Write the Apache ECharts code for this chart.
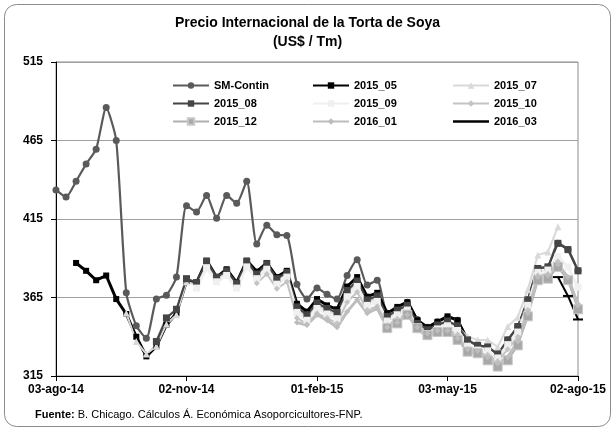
<!DOCTYPE html>
<html><head><meta charset="utf-8">
<script src="https://cdn.jsdelivr.net/npm/echarts@6/dist/echarts.min.js"></script>
<style>html,body{margin:0;padding:0;background:#fff}#c{width:615px;height:429px}</style>
</head><body><div id="c"></div>
<script>
const categories = ['03-ago-14','10-ago-14','17-ago-14','24-ago-14','31-ago-14','07-sep-14','14-sep-14','21-sep-14','28-sep-14','05-oct-14','12-oct-14','19-oct-14','26-oct-14','02-nov-14','09-nov-14','16-nov-14','23-nov-14','30-nov-14','07-dic-14','14-dic-14','21-dic-14','28-dic-14','04-ene-15','11-ene-15','18-ene-15','25-ene-15','01-feb-15','08-feb-15','15-feb-15','22-feb-15','01-mar-15','08-mar-15','15-mar-15','22-mar-15','29-mar-15','05-abr-15','12-abr-15','19-abr-15','26-abr-15','03-may-15','10-may-15','17-may-15','24-may-15','31-may-15','07-jun-15','14-jun-15','21-jun-15','28-jun-15','05-jul-15','12-jul-15','19-jul-15','26-jul-15','02-ago-15'];
const yTicks = [315, 365, 415, 465, 515];
const _ = null;
const smContin = [433.5,429,439,450,459.5,486,465,368,347,339,364,366.5,378,423.5,419.5,430,415.5,430,425,439,399,411,405,404.5,373.5,364,371,367,364,379,389,373,376,355,358.5,362,351,346,349.5,352.5,350.5,338,334.5,333.5,329,338,346.5,363.5,383.5,384.5,399.5,395.5,382];
const s2015_05 = [_,_,387,382,376,379,364,354.5,340,327.5,334,347.5,355,375.5,374.5,388.5,378,383,374.5,388.5,381.5,387,378,382,361,356,364,360,357.5,372,378,365.5,368,355,359,362,350.5,346,349.5,353,350.5,338,_,_,_,_,_,_,_,_,_,_,_];
const s2015_07 = [_,_,_,_,_,_,_,355,337,329,334,348,354,375,373,387,377,381,373,387,379,385.5,376.5,380,358,352,360,356.5,354,368,374.5,362,364.5,352,356,359,348,344,347,349,346.5,340,338,338,333.5,346.5,352.5,370,392,394,410,_,_];
const s2015_08 = [_,_,_,_,_,_,_,_,_,_,337,352,357.5,377,374.5,388,378,382,374,388,380,386.5,377,381,359,354,361.5,358,355.5,369.5,375.5,363.5,366,353,357,360,348.5,344.5,347.5,350,347,338,334.5,333.5,329,338,346.5,363.5,383.5,384.5,399.5,395.5,382];
const s2015_09 = [_,_,_,_,_,_,_,_,_,_,_,_,_,_,371,384,375,379,371,384.5,377,383,373.5,378,355.5,350.5,358,354.5,351.5,365.5,372,360,362.5,350,354,357,346,342,345,347,344,334,331.5,331,326.5,335,343,360,381,382.5,391,384.5,371.5];
const s2015_10 = [_,_,_,_,_,_,_,_,_,_,_,_,_,_,_,_,_,_,_,_,374,380,370.5,375,352,348,355,352,348.5,362,368.5,357,359.5,347.5,351.5,354.5,344,340,342.5,344.5,341.5,331,329,328.5,324.5,332,340,357,379,380,388,377,361];
const s2015_12 = [_,_,_,_,_,_,_,_,_,_,_,_,_,_,_,_,_,_,_,_,_,_,_,_,_,_,_,_,_,_,_,_,_,345.5,348.5,354,345.5,341,343,343,338,330.5,329.5,325,321,325,334.5,353,376,377,384.5,376,357.5];
const s2016_01 = [_,_,_,_,_,_,_,_,_,_,_,_,_,_,_,_,_,_,_,_,_,_,_,_,349,347.5,354,350.5,346,356,363.5,355,358,346,349,354,346,342,344,344,339,332,331,327,323,327,337,355,378,379,386,378,360];
const s2016_03 = [_,_,_,_,_,_,_,_,_,_,_,_,_,_,_,_,_,_,_,_,_,_,_,_,_,_,_,_,_,_,_,_,_,_,_,_,_,_,_,_,_,_,_,_,_,_,_,_,_,_,378,366,351];

const FONT = 'Liberation Sans, Arial, sans-serif';
function mk(name, data, color, width, symbol, size, extra) {
  return Object.assign({
    name: name, type: 'line', data: data, symbol: symbol, symbolSize: size,
    showSymbol: true, showAllSymbol: true, connectNulls: false,
    lineStyle: {color: color, width: width},
    itemStyle: {color: color, borderWidth: 0},
    emphasis: {disabled: true}, animation: false
  }, extra || {});
}
const series = [
  mk('SM-Contin', smContin, '#5a5a5a', 2.2, 'circle', 7, {smooth: 0.2}),
  mk('2015_05', s2015_05, '#000000', 3, 'rect', 6),
  mk('2015_07', s2015_07, '#d9d9d9', 2, 'triangle', 7),
  mk('2015_08', s2015_08, '#454545', 2.2, 'rect', 7),
  mk('2015_09', s2015_09, '#f0f0f0', 3, 'rect', 7),
  mk('2015_10', s2015_10, '#c4c4c4', 2, 'diamond', 6),
  mk('2015_12', s2015_12, '#b0b0b0', 2, 'rect', 9, {itemStyle: {color: '#a8a8a8', borderColor: '#c8c8c8', borderWidth: 1}}),
  mk('2016_01', s2016_01, '#bdbdbd', 3, 'diamond', 6),
  mk('2016_03', s2016_03, '#000000', 2, 'rect', [10, 2])
];
const legText = {fontFamily: FONT, fontWeight: 'bold', fontSize: 11, color: '#000'};
function leg(names, left) {
  return {data: names, orient: 'vertical', left: left, top: 80, itemWidth: 36, itemHeight: 8,
    itemGap: 7, textStyle: legText, padding: 0, selectedMode: false};
}
const chart = echarts.init(document.getElementById('c'), null, {renderer: 'canvas'});
chart.setOption({
  backgroundColor: '#fff',
  animation: false,
  title: [{
    text: 'Precio Internacional de la Torta de Soya', left: 'center', top: 11,
    textStyle: {fontFamily: FONT, fontWeight: 'bold', fontSize: 14, color: '#000'}
  }, {
    text: '(US$ / Tm)', left: 'center', top: 30,
    textStyle: {fontFamily: FONT, fontWeight: 'bold', fontSize: 14, color: '#000'}
  }, {
    text: '{b|Fuente:} B. Chicago. Cálculos Á. Económica Asoporcicultores-FNP.', left: 30, top: 404,
    textStyle: {fontFamily: FONT, fontWeight: 'normal', fontSize: 11, color: '#000', rich: {b: {fontFamily: FONT, fontWeight: 'bold', fontSize: 11, color: '#000'}}}
  }],
  legend: [
    leg(['SM-Contin', '2015_08', '2015_12'], 172),
    leg(['2015_05', '2015_09', '2016_01'], 312),
    leg(['2015_07', '2015_10', {name: '2016_03', icon: 'path://M0,0L36,0L36,2.5L0,2.5Z'}], 452)
  ],
  grid: {left: 56, right: 37, top: 62, bottom: 53, show: true, borderColor: '#8c8c8c', borderWidth: 1, backgroundColor: 'transparent'},
  xAxis: {
    type: 'category', data: categories, boundaryGap: false,
    axisLine: {lineStyle: {color: '#000', width: 1}},
    axisTick: {show: true, interval: 12, length: 5, lineStyle: {color: '#000'}},
    axisLabel: {interval: 12, fontFamily: FONT, fontWeight: 'bold', fontSize: 12, color: '#000', margin: 8, showMaxLabel: true},
    splitLine: {show: false}
  },
  yAxis: {
    type: 'value', min: yTicks[0], max: yTicks[yTicks.length - 1], interval: 50,
    axisLine: {show: true, lineStyle: {color: '#000', width: 1}},
    axisTick: {show: true, length: 5, lineStyle: {color: '#000'}},
    axisLabel: {fontFamily: FONT, fontWeight: 'bold', fontSize: 12, color: '#000', margin: 13},
    splitLine: {show: true, lineStyle: {color: '#a0a0a0', width: 1}}
  },
  graphic: [{
    type: 'rect', shape: {x: 4.5, y: 4.5, width: 606, height: 422, r: 12},
    style: {fill: 'none', stroke: '#8c8c8c', lineWidth: 1}, silent: true, z: -1
  }],
  series: series
});
</script></body></html>
